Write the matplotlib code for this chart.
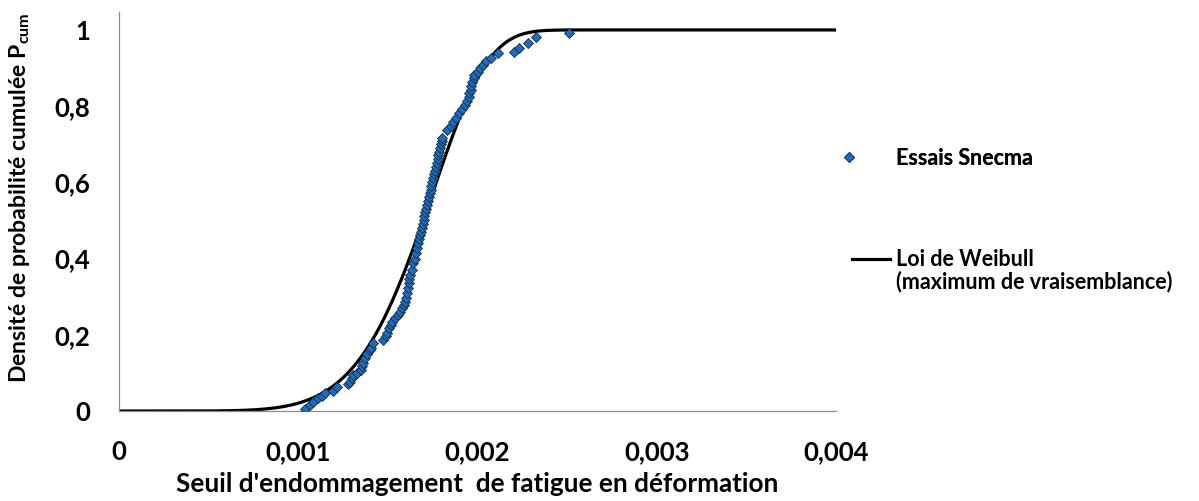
# -*- coding:utf-8 -*-
# Weibull fit vs test data (seuil d'endommagement)
import numpy as np
import matplotlib
matplotlib.use("Agg")
import matplotlib.pyplot as plt
from matplotlib.lines import Line2D

plt.rcParams['font.family'] = ['Lato', 'DejaVu Sans']
plt.rcParams['font.weight'] = 'bold'
plt.rcParams['mathtext.fontset'] = 'custom'
plt.rcParams['mathtext.rm'] = 'Lato:bold'
plt.rcParams['mathtext.bf'] = 'Lato:bold'

# essais Snecma (x en 1e-3, probabilite cumulee)
essais_x = [1.039, 1.065, 1.084, 1.110, 1.130, 1.151, 1.196, 1.218, 1.279, 1.291,
            1.300, 1.307, 1.330, 1.352, 1.358, 1.363, 1.374, 1.385, 1.400, 1.408,
            1.419, 1.475, 1.490, 1.497, 1.508, 1.516, 1.525, 1.540, 1.559, 1.570,
            1.581, 1.590, 1.598, 1.603, 1.609, 1.612, 1.615, 1.620, 1.626, 1.634,
            1.642, 1.650, 1.659, 1.664, 1.670, 1.675, 1.680, 1.685, 1.690, 1.694,
            1.699, 1.704, 1.709, 1.714, 1.719, 1.724, 1.729, 1.733, 1.738, 1.743,
            1.748, 1.753, 1.758, 1.763, 1.767, 1.772, 1.777, 1.782, 1.787, 1.792,
            1.797, 1.801, 1.804, 1.832, 1.850, 1.866, 1.880, 1.894, 1.915, 1.933,
            1.940, 1.950, 1.955, 1.961, 1.966, 1.972, 1.978, 1.983, 2.000, 2.014,
            2.028, 2.050, 2.073, 2.117, 2.201, 2.229, 2.279, 2.324, 2.508]
essais_p = [0.005, 0.015, 0.024, 0.033, 0.040, 0.046, 0.053, 0.063, 0.071, 0.077,
            0.086, 0.094, 0.100, 0.108, 0.118, 0.127, 0.139, 0.150, 0.160, 0.166,
            0.178, 0.186, 0.196, 0.205, 0.218, 0.226, 0.234, 0.243, 0.252, 0.261,
            0.270, 0.278, 0.286, 0.297, 0.310, 0.323, 0.336, 0.346, 0.357, 0.370,
            0.388, 0.400, 0.415, 0.428, 0.441, 0.451, 0.461, 0.471, 0.481, 0.491,
            0.501, 0.511, 0.521, 0.531, 0.541, 0.551, 0.561, 0.571, 0.581, 0.591,
            0.601, 0.611, 0.621, 0.631, 0.641, 0.651, 0.661, 0.671, 0.681, 0.691,
            0.701, 0.709, 0.717, 0.738, 0.748, 0.759, 0.770, 0.782, 0.793, 0.803,
            0.813, 0.824, 0.834, 0.843, 0.853, 0.864, 0.873, 0.882, 0.890, 0.899,
            0.908, 0.918, 0.927, 0.940, 0.942, 0.953, 0.966, 0.982, 0.992]

# loi de Weibull (maximum de vraisemblance)
weibull_m = 6.63
weibull_s = 1.793e-3

xticks = [0, 0.001, 0.002, 0.003, 0.004]
xtick_labels = ['0', '0,001', '0,002', '0,003', '0,004']
yticks = [0, 0.2, 0.4, 0.6, 0.8, 1]
ytick_labels = ['0', '0,2', '0,4', '0,6', '0,8', '1']

blue = '#1A6DC2'

fig = plt.figure(figsize=(11.99, 5.01), dpi=100)
ax = fig.add_axes([0.0993, 0.1796, 0.5979, 0.7964])

xx = np.linspace(0, 0.004, 800)
cdf = 1 - np.exp(-(xx / weibull_s) ** weibull_m)
ax.plot(xx, cdf, color='black', lw=2.3, zorder=2)

ex = np.array(essais_x) * 1e-3
ax.plot(ex, essais_p, 'D', ms=5.2, mfc=blue, mec='#1a2a3a', mew=0.6,
        ls='none', zorder=3)

ax.set_xlim(0, 0.004)
ax.set_ylim(0, 1.047)
ax.set_xticks(xticks)
ax.set_xticklabels(xtick_labels)
ax.set_yticks(yticks)
ax.set_yticklabels(ytick_labels)
ax.tick_params(length=0, pad=21, labelsize=18.5)
for lab in ax.get_xticklabels() + ax.get_yticklabels():
    lab.set_fontweight('bold')

for s in ['top', 'right']:
    ax.spines[s].set_visible(False)
ax.spines['left'].set_color('#8c8c8c')
ax.spines['bottom'].set_color('#8c8c8c')
ax.spines['left'].set_linewidth(0.9)
ax.spines['bottom'].set_linewidth(0.9)

ax.set_xlabel("Seuil d'endommagement  de fatigue en déformation", fontsize=18.8, fontweight='bold')
ax.xaxis.set_label_coords(0.5, -0.153)
ax.set_ylabel(r'Densité de probabilité cumulée P$_{\mathrm{cum}}$', fontsize=16.6, fontweight='bold')
ax.yaxis.set_label_coords(-0.121, 0.534)

# legende en deux blocs
h1 = Line2D([], [], marker='D', ms=4.6, mfc=blue, mec='#1a2a3a', mew=0.6, ls='none')
leg1 = fig.legend([h1], ['Essais Snecma'], loc='center left', bbox_to_anchor=(0.699, 0.6846),
                  frameon=False, prop={'weight': 'bold', 'size': 15.5},
                  handlelength=1.0, handletextpad=1.68, borderpad=0, borderaxespad=0)
h2 = Line2D([], [], color='black', lw=2.3)
h3 = Line2D([], [], color='none')
leg2 = fig.legend([h2, h3], ['Loi de Weibull', '(maximum de vraisemblance)'],
                  loc='center left', bbox_to_anchor=(0.7106, 0.46),
                  frameon=False, prop={'weight': 'bold', 'size': 15.5},
                  handlelength=1.77, handletextpad=0.28, borderpad=0, borderaxespad=0,
                  labelspacing=0.0)
fig.add_artist(leg1)

fig.savefig('out.png', dpi=100)
